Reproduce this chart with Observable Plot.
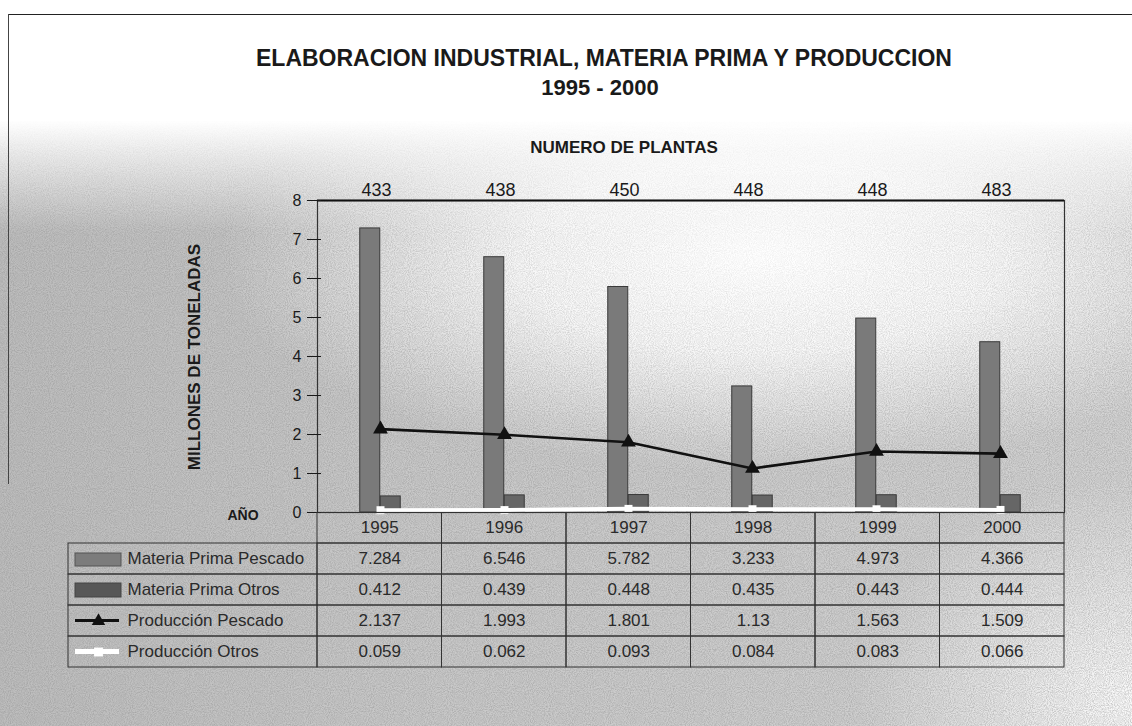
<!DOCTYPE html>
<html><head><meta charset="utf-8">
<script src="https://cdn.jsdelivr.net/npm/d3@7"></script>
<script src="https://cdn.jsdelivr.net/npm/@observablehq/plot@0.6"></script>
<style>
body{margin:0;background:#fff;}
#wrap{position:relative;width:1132px;height:726px;overflow:hidden;
 font-family:"Liberation Sans",Arial,sans-serif;color:#1a1a1a;background:#fff;}
#shade{position:absolute;left:0;top:120px;width:1132px;height:606px;
 -webkit-mask-image:linear-gradient(to bottom, transparent 0px, #000 110px);mask-image:linear-gradient(to bottom, transparent 0px, #000 110px);
 background:
  radial-gradient(ellipse 540px 210px at 760px 140px, rgba(255,255,255,1) 0%, rgba(255,255,255,0.85) 45%, rgba(255,255,255,0) 100%),
  radial-gradient(ellipse 280px 220px at 1132px 580px, rgba(255,255,255,0.9) 0%, rgba(255,255,255,0) 100%),
  linear-gradient(to right, #bdbdbd 0px, #c8c8c8 400px, #d2d2d2 1132px);}
#noiseOuter{position:absolute;left:0;top:120px;width:1132px;height:606px;
 -webkit-mask-image:linear-gradient(to bottom, transparent 0px, #000 120px);mask-image:linear-gradient(to bottom, transparent 0px, #000 120px);}
#noise{position:absolute;left:0;top:0;width:1132px;height:606px;opacity:0.5;mix-blend-mode:multiply;
 -webkit-mask-image:radial-gradient(ellipse 460px 190px at 760px 130px, rgba(0,0,0,0.25) 0%, #000 100%);mask-image:radial-gradient(ellipse 460px 190px at 760px 130px, rgba(0,0,0,0.25) 0%, #000 100%);
 background-image:url("data:image/svg+xml;utf8,<svg xmlns='http://www.w3.org/2000/svg' width='300' height='300'><filter id='n'><feTurbulence type='fractalNoise' baseFrequency='0.95' numOctaves='2' stitchTiles='stitch'/><feColorMatrix values='0 0 0 0 0.25  0 0 0 0 0.25  0 0 0 0 0.25  0 0 0 1.8 -0.6'/></filter><rect width='300' height='300' filter='url(%23n)'/></svg>");}
.t{position:absolute;font-weight:bold;white-space:nowrap;transform:translate(-50%,-50%);}
.abs{position:absolute;}
</style></head><body>
<div id="wrap">
 <div id="shade"></div>
 <div id="noiseOuter"><div id="noise"></div></div>
 <div class="abs" style="left:8px;top:14px;width:1124px;height:0;border-top:1.5px solid #222;"></div>
 <div class="abs" style="left:8px;top:14px;width:0;height:470px;border-left:1.2px solid #444;"></div>
 <div class="t" style="left:604px;top:58px;font-size:23px;">ELABORACION INDUSTRIAL, MATERIA PRIMA Y PRODUCCION</div>
 <div class="t" style="left:600px;top:88px;font-size:22px;">1995 - 2000</div>
 <div class="t" style="left:624px;top:148px;font-size:17px;">NUMERO DE PLANTAS</div>
 <div class="t" style="left:195px;top:357px;font-size:17px;transform:translate(-50%,-50%) rotate(-90deg);">MILLONES DE TONELADAS</div>
 <div class="t" style="left:243px;top:515px;font-size:14px;">AÑO</div>
 <div id="chart" class="abs" style="left:0;top:0;"></div>
 <div id="table" class="abs" style="left:0;top:512px;"></div>
</div>
<script>
const years = ["1995","1996","1997","1998","1999","2000"];
const plantas = [433, 438, 450, 448, 448, 483];
const mpPescado = [7.284, 6.546, 5.782, 3.233, 4.973, 4.366];
const mpOtros = [0.412, 0.439, 0.448, 0.435, 0.443, 0.444];
const prodPescado = [2.137, 1.993, 1.801, 1.13, 1.563, 1.509];
const prodOtros = [0.059, 0.062, 0.093, 0.084, 0.083, 0.066];
const seriesNames = ["Materia Prima Pescado", "Materia Prima Otros", "Producción Pescado", "Producción Otros"];
const yTicks = [0, 1, 2, 3, 4, 5, 6, 7, 8];

const font = "'Liberation Sans',Arial,sans-serif";
const rows = years.map((y, i) => ({year: y, plantas: plantas[i], mpP: mpPescado[i], mpO: mpOtros[i], pP: prodPescado[i], pO: prodOtros[i]}));

const chart = Plot.plot({
  width: 1132, height: 530,
  marginLeft: 317, marginRight: 68, marginTop: 200, marginBottom: 18,
  style: {background: "transparent", fontFamily: font, fontSize: "16px", color: "#1a1a1a", overflow: "visible"},
  x: {domain: years, paddingInner: 0.835, paddingOuter: 0.4175, axis: null},
  y: {domain: [0, 8], axis: null},
  marks: [
    Plot.barY(rows, {x: "year", y: "mpP", dx: -10.25, fill: "#7a7a7a", stroke: "#3a3a3a", strokeWidth: 1}),
    Plot.barY(rows, {x: "year", y: "mpO", dx: 10.25, fill: "#666", stroke: "#3a3a3a", strokeWidth: 1}),
    Plot.line(rows, {x: "year", y: "pO", stroke: "#fff", strokeWidth: 4}),
    Plot.dot(rows, {x: "year", y: "pO", symbol: "square", r: 4.5, fill: "#fff"}),
    Plot.line(rows, {x: "year", y: "pP", stroke: "#111", strokeWidth: 2.6}),
    Plot.dot(rows, {x: "year", y: "pP", symbol: "triangle", r: 5.5, fill: "#111"}),
    Plot.frame({stroke: "#333", strokeWidth: 1.2}),
    Plot.ruleY([8], {stroke: "#111", strokeWidth: 2.2}),
    Plot.axisY({ticks: yTicks, tickSize: 10, tickPadding: 6, tickFormat: d => String(d), fontSize: 16}),
    Plot.axisY({ticks: yTicks, tickSize: 4, dx: 4, text: null}),
    Plot.text(rows, {x: "year", text: d => String(d.plantas), frameAnchor: "top", dy: -17, dx: -4, fontSize: 18})
  ]
});
document.getElementById("chart").appendChild(chart);

// table: row 0 = years, rows 1..4 = series
const seriesVals = [mpPescado, mpOtros, prodPescado, prodOtros];
const cells = [];
years.forEach((y, c) => cells.push({r: 0, c, text: y}));
seriesVals.forEach((vals, s) => vals.forEach((v, c) => cells.push({r: s + 1, c, text: String(v)})));
const legendRows = seriesNames.map((name, s) => ({r: s + 1, name}));

const table = Plot.plot({
  width: 1132, height: 160,
  marginLeft: 68, marginRight: 68, marginTop: 0, marginBottom: 5,
  style: {background: "transparent", fontFamily: font, fontSize: "17px", color: "#1a1a1a"},
  x: {domain: [-2, 6], axis: null},
  y: {domain: [0, 5], reverse: true, axis: null},
  marks: [
    Plot.rect(cells, {x1: "c", x2: d => d.c + 1, y1: "r", y2: d => d.r + 1, stroke: "#333", strokeWidth: 1, fill: "none"}),
    Plot.rect(legendRows, {x1: -2, x2: 0, y1: "r", y2: d => d.r + 1, stroke: "#333", strokeWidth: 1, fill: "none"}),
    Plot.text(cells, {x: d => d.c + 0.5, y: d => d.r + 0.5, text: "text", fontSize: 17, fill: "#2a2a2a"}),
    // legend swatches
    Plot.rect(legendRows.filter(d => d.r === 1), {x1: -2, x2: 0, y1: "r", y2: d => d.r + 1, insetLeft: 7, insetRight: 196, insetTop: 10, insetBottom: 8, fill: "#7c7c7c", stroke: "#555"}),
    Plot.rect(legendRows.filter(d => d.r === 2), {x1: -2, x2: 0, y1: "r", y2: d => d.r + 1, insetLeft: 7, insetRight: 196, insetTop: 9, insetBottom: 8, fill: "#575757", stroke: "#444"}),
    Plot.rect(legendRows.filter(d => d.r === 3), {x1: -2, x2: 0, y1: "r", y2: d => d.r + 1, insetLeft: 7, insetRight: 198, insetTop: 14, insetBottom: 14, fill: "#111"}),
    Plot.dot(legendRows.filter(d => d.r === 3), {x: -2, y: d => d.r + 0.5, dx: 30, symbol: "triangle", r: 5, fill: "#111"}),
    Plot.rect(legendRows.filter(d => d.r === 4), {x1: -2, x2: 0, y1: "r", y2: d => d.r + 1, insetLeft: 7, insetRight: 198, insetTop: 13, insetBottom: 13, fill: "#fff"}),
    Plot.dot(legendRows.filter(d => d.r === 4), {x: -2, y: d => d.r + 0.5, dx: 30, symbol: "square", r: 5, fill: "#fff"}),
    Plot.text(legendRows, {x: -2, y: d => d.r + 0.5, dx: 59, text: "name", textAnchor: "start", fontSize: 17, fill: "#2a2a2a"})
  ]
});
document.getElementById("table").appendChild(table);
</script>
</body></html>
